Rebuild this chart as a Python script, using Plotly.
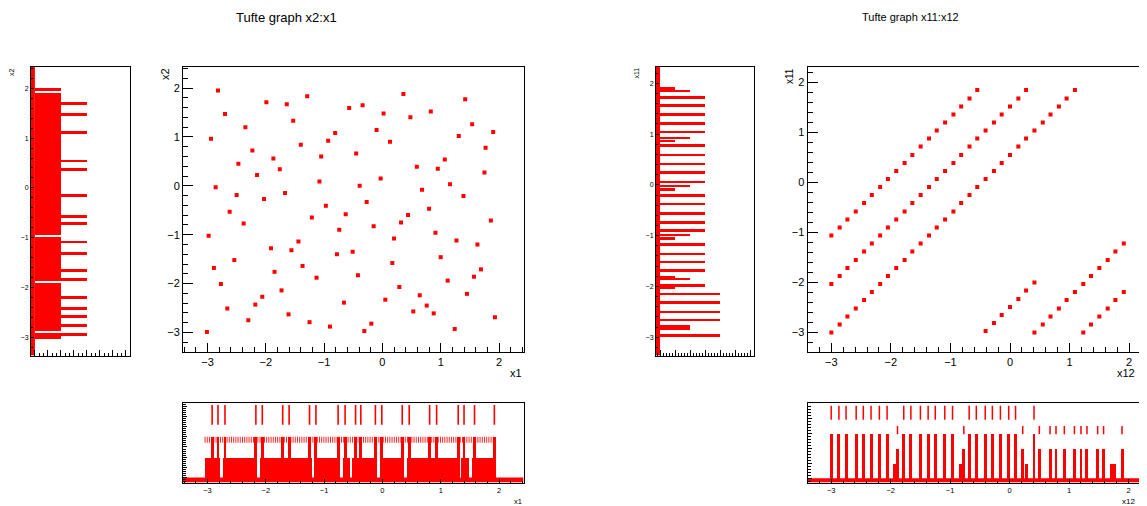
import plotly.graph_objects as go

# ---------------- data: panel A (x2 vs x1) ----------------
x1 = [-3.01, -2.98, -2.94, -2.89, -2.86, -2.82, -2.77, -2.70, -2.66, -2.62,
      -2.54, -2.50, -2.47, -2.38, -2.35, -2.30, -2.23, -2.18, -2.15, -2.06,
      -2.03, -1.99, -1.91, -1.87, -1.85, -1.76, -1.73, -1.67, -1.64, -1.61,
      -1.56, -1.53, -1.44, -1.40, -1.37, -1.29, -1.25, -1.21, -1.13, -1.08,
      -1.05, -0.97, -0.93, -0.90, -0.81, -0.78, -0.74, -0.66, -0.63, -0.57,
      -0.51, -0.45, -0.42, -0.39, -0.34, -0.31, -0.27, -0.19, -0.15, -0.10,
      -0.03, 0.02, 0.05, 0.13, 0.17, 0.20, 0.29, 0.32, 0.36, 0.44,
      0.48, 0.53, 0.59, 0.64, 0.68, 0.76, 0.80, 0.83, 0.88, 0.91,
      0.95, 1.00, 1.07, 1.12, 1.16, 1.24, 1.27, 1.31, 1.39, 1.42,
      1.45, 1.54, 1.57, 1.63, 1.69, 1.75, 1.77, 1.86, 1.90, 1.93]
x2 = [-2.99, -1.02, 0.96, -1.68, -0.03, 1.95, -2.01, 1.47, -2.51, -0.53,
      -1.52, -0.19, 0.45, -0.77, 1.20, -2.75, 0.72, -2.43, 0.22, -2.27,
      -0.27, 1.71, -1.28, 0.56, -1.76, 0.34, -2.14, -0.15, 1.67, -2.63,
      -1.32, 1.33, -1.14, 0.84, -1.64, 1.83, -2.79, -0.65, -1.88, 0.09,
      0.60, -0.41, 0.92, -2.88, 1.08, -1.40, -0.90, -2.39, -0.58, 1.59,
      -1.35, 0.66, -1.83, 0.00, 1.65, -2.97, -0.33, -2.82, -0.83, 1.14,
      0.15, 1.48, -2.33, 0.90, -1.58, -1.08, -2.07, -0.75, 1.88, -0.60,
      1.40, -2.57, 0.39, -2.24, -0.08, -2.45, -0.47, 1.52, -2.61, -0.96,
      0.35, -1.46, 0.54, -1.94, 0.03, -2.93, -1.12, 1.02, -0.21, 1.77,
      -2.21, 1.26, -1.86, -1.20, -1.71, 0.27, 0.78, -0.71, 1.10, -2.69]

# marginal of x1 (bottom): single-count band with gaps, double-count bins, rug
x1_band = [-3.05, 1.93]
x1_band_gaps = [-2.76, -2.13, -1.19, -0.70, -0.54, -0.07, 0.40, 1.33, 1.51]
x1_double = [-2.92, -2.82, -2.70, -2.17, -2.06, -1.71, -1.60, -1.25, -1.14,
             -0.76, -0.64, -0.46, -0.37, -0.12, -0.01, 0.34, 0.46, 0.81,
             0.93, 1.30, 1.40, 1.58, 1.92]

# marginal of x2 (left): single-count band with gaps, double-count bins
x2_band = [-3.04, 1.90]
x2_band_gaps = [-0.965, -1.88, -2.89]
x2_single_extra = [1.98]
x2_double = [1.70, 1.47, 1.12, 0.54, 0.37, -0.16, -0.57, -0.72, -1.09, -1.32,
             -1.66, -1.84, -2.20, -2.42, -2.59, -2.77, -2.95]

# ---------------- data: panel B (x11 vs x12) ----------------
l1_x12 = [-3.00, -2.86, -2.73, -2.59, -2.45, -2.32, -2.18, -2.05, -1.91, -1.77,
          -1.64, -1.50, -1.36, -1.23, -1.09, -0.95, -0.82, -0.68, -0.55]
l1_x11 = [-1.06, -0.90, -0.74, -0.58, -0.41, -0.25, -0.09, 0.07, 0.23, 0.39,
          0.55, 0.72, 0.88, 1.04, 1.20, 1.36, 1.52, 1.68, 1.85]
l2_x12 = [-3.00, -2.86, -2.73, -2.59, -2.45, -2.32, -2.18, -2.05, -1.91, -1.77,
          -1.64, -1.50, -1.36, -1.23, -1.09, -0.95, -0.82, -0.68, -0.55, -0.41,
          -0.27, -0.14, 0.00, 0.14, 0.27]
l2_x11 = [-2.03, -1.87, -1.71, -1.55, -1.38, -1.22, -1.06, -0.90, -0.74, -0.58,
          -0.41, -0.25, -0.09, 0.07, 0.23, 0.39, 0.55, 0.72, 0.88, 1.04,
          1.20, 1.36, 1.52, 1.68, 1.85]
l3_x12 = [-3.00, -2.86, -2.73, -2.59, -2.45, -2.32, -2.18, -2.05, -1.91, -1.77,
          -1.64, -1.50, -1.36, -1.23, -1.09, -0.95, -0.82, -0.68, -0.55, -0.41,
          -0.27, -0.14, 0.00, 0.14, 0.27, 0.41, 0.55, 0.68, 0.82, 0.95, 1.09]
l3_x11 = [-3.00, -2.84, -2.68, -2.52, -2.35, -2.19, -2.03, -1.87, -1.71, -1.55,
          -1.38, -1.22, -1.06, -0.90, -0.74, -0.58, -0.41, -0.25, -0.09, 0.07,
          0.23, 0.39, 0.55, 0.72, 0.88, 1.04, 1.20, 1.36, 1.52, 1.68, 1.85]
l4_x12 = [-0.41, -0.27, -0.14, 0.00, 0.14, 0.27, 0.41]
l4_x11 = [-2.97, -2.81, -2.65, -2.49, -2.33, -2.16, -2.00]
l5_x12 = [0.41, 0.55, 0.68, 0.82, 0.95, 1.09, 1.23, 1.36, 1.50, 1.64, 1.77, 1.91]
l5_x11 = [-3.00, -2.84, -2.68, -2.52, -2.35, -2.19, -2.03, -1.87, -1.71, -1.55,
          -1.38, -1.22]
l6_x12 = [1.23, 1.36, 1.50, 1.64, 1.77, 1.91]
l6_x11 = [-3.00, -2.84, -2.68, -2.52, -2.35, -2.19]

# marginal of x12 (bottom): bin centres and counts
x12_bins = [-3.00, -2.87, -2.75, -2.58, -2.46, -2.33, -2.19, -2.06, -1.94, -1.885,
            -1.78, -1.66, -1.50, -1.37, -1.25, -1.09, -0.96, -0.82, -0.77, -0.68,
            -0.56, -0.41, -0.29, -0.155, -0.015, 0.10, 0.22, 0.28, 0.41, 0.50,
            0.68, 0.78, 0.92, 1.09, 1.20, 1.30, 1.48, 1.58, 1.74, 1.89]
x12_counts = [3, 3, 3, 3, 3, 3, 3, 3, 1, 2,
              3, 3, 3, 3, 3, 3, 3, 1, 2, 3,
              3, 3, 3, 3, 3, 3, 2, 1, 3, 2,
              2, 2, 2, 2, 2, 2, 2, 2, 1, 2]
x12_widths = [0.05] * 38 + [0.10, 0.05]

# marginal of x11 (left): bin centres and counts
x11_bins = [1.89, 1.845, 1.72, 1.56, 1.39, 1.21, 1.04, 0.92, 0.86, 0.77,
            0.59, 0.41, 0.24, 0.06, -0.02, -0.09, -0.21, -0.38, -0.56, -0.74,
            -0.90, -0.99, -1.06, -1.17, -1.36, -1.52, -1.69, -1.82, -1.85, -1.98,
            -2.02, -2.15, -2.32, -2.50, -2.66, -2.81, -2.97]
x11_counts = [1, 2, 3, 3, 3, 3, 3, 2, 1, 3,
              3, 3, 3, 3, 2, 1, 3, 3, 3, 3,
              3, 2, 1, 3, 3, 3, 3, 1, 2, 3,
              1, 4, 4, 4, 4, 2, 4]
x11_widths = [0.09, 0.045] + [0.05] * 33 + [0.09, 0.05]

# ---------------- layout helpers ----------------
# the page body has an 8px margin: page pixel p -> figure pixel p - OFF
OFF = 8
W, H = 1147 - OFF, 506 - OFF
RED = "#ff0000"
FONT = "Liberation Sans, Arial, Helvetica, sans-serif"


def dx(a, b):
    return [(a - OFF) / W, min((b - OFF) / W, 1.0)]


def dy(top, bot):
    return [1 - (bot - OFF) / H, 1 - (top - OFF) / H]


def axis(domain, rng, anchor, dtick, mdtick, tlen, mlen, labels, fsize):
    return dict(domain=domain, range=rng, anchor=anchor, showgrid=False,
                zeroline=False, showline=True, mirror=True, linecolor="black",
                linewidth=1, ticks="inside", ticklen=tlen, tickwidth=1,
                tickcolor="black", dtick=dtick, tick0=0, showticklabels=labels,
                tickfont=dict(family=FONT, size=fsize, color="black"),
                minor=dict(ticks="inside", dtick=mdtick, ticklen=mlen,
                           tickcolor="black", showgrid=False),
                fixedrange=True)


def bands(lo, hi, gaps, gw):
    edges = [lo]
    for g in sorted(gaps):
        edges += [g - gw / 2, g + gw / 2]
    edges.append(hi)
    c = [(edges[i] + edges[i + 1]) / 2 for i in range(0, len(edges), 2)]
    w = [edges[i + 1] - edges[i] for i in range(0, len(edges), 2)]
    return c, w


# axis ranges
rA_x, rA_y = [-3.42, 2.42], [-3.40, 2.43]
rAL_x, rAL_y = [-0.15, 3.64], [-3.37, 2.43]
rAB_y = [-0.25, 3.69]
rB_x, rB_y = [-3.40, 2.30], [-3.39, 2.31]
rBL_x, rBL_y = [-0.27, 6.23], [-3.36, 2.32]
rBB_x, rBB_y = [-3.39, 2.31], [-0.29, 5.04]

fig = go.Figure()
bar_style = dict(color=RED, line=dict(width=0))

# ---- panel A scatter
fig.add_trace(go.Scatter(x=x1, y=x2, mode="markers", xaxis="x", yaxis="y",
                         marker=dict(symbol="square", size=4, color=RED,
                                     line=dict(width=0)), showlegend=False))

# ---- panel A left marginal (x2)
c, w = bands(x2_band[0], x2_band[1], x2_band_gaps, 0.045)
fig.add_trace(go.Bar(orientation="h", y=c, x=[1] * len(c), width=w,
                     xaxis="x2", yaxis="y2", marker=bar_style, showlegend=False))
fig.add_trace(go.Bar(orientation="h", y=x2_single_extra, x=[1] * len(x2_single_extra),
                     width=[0.055] * len(x2_single_extra),
                     xaxis="x2", yaxis="y2", marker=bar_style, showlegend=False))
fig.add_trace(go.Bar(orientation="h", y=x2_double, x=[2] * len(x2_double),
                     width=[0.055] * len(x2_double),
                     xaxis="x2", yaxis="y2", marker=bar_style, showlegend=False))

# ---- panel A bottom marginal (x1)
c, w = bands(x1_band[0], x1_band[1], x1_band_gaps, 0.045)
fig.add_trace(go.Bar(x=c, y=[1] * len(c), width=w, xaxis="x3", yaxis="y3",
                     marker=bar_style, showlegend=False))
fig.add_trace(go.Bar(x=x1_double, y=[2] * len(x1_double),
                     width=[0.05] * len(x1_double), xaxis="x3", yaxis="y3",
                     marker=bar_style, showlegend=False))
fig.add_trace(go.Scatter(x=x1_band, y=[1 + 0.85] * 2, mode="lines",
                         xaxis="x3", yaxis="y3",
                         line=dict(color="rgba(255,0,0,0.85)", width=6,
                                   dash="1px,1.2px"), showlegend=False))
fig.add_trace(go.Scatter(x=x1_double, y=[2 + 1.08] * len(x1_double), mode="markers",
                         xaxis="x3", yaxis="y3",
                         marker=dict(symbol="line-ns", size=14,
                                     line=dict(color=RED, width=1.6)),
                         showlegend=False))

# ---- panel B scatter
for lx, ly in [(l1_x12, l1_x11), (l2_x12, l2_x11), (l3_x12, l3_x11),
               (l4_x12, l4_x11), (l5_x12, l5_x11), (l6_x12, l6_x11)]:
    fig.add_trace(go.Scatter(x=lx, y=ly, mode="markers", xaxis="x4", yaxis="y4",
                             marker=dict(symbol="square", size=4, color=RED,
                                         line=dict(width=0)), showlegend=False))

# ---- panel B left marginal (x11)
fig.add_trace(go.Bar(orientation="h", y=x11_bins, x=x11_counts, width=x11_widths,
                     xaxis="x5", yaxis="y5", marker=bar_style, showlegend=False))

# ---- panel B bottom marginal (x12)
fig.add_trace(go.Bar(x=x12_bins, y=x12_counts, width=x12_widths,
                     xaxis="x6", yaxis="y6", marker=bar_style, showlegend=False))
rug3 = [b for b, n in zip(x12_bins, x12_counts) if n == 3]
rug2 = [b for b, n in zip(x12_bins, x12_counts) if n == 2]
fig.add_trace(go.Scatter(x=rug3, y=[3 + 1.35] * len(rug3), mode="markers",
                         xaxis="x6", yaxis="y6",
                         marker=dict(symbol="line-ns", size=10,
                                     line=dict(color=RED, width=1.5)),
                         showlegend=False))
fig.add_trace(go.Scatter(x=rug2, y=[2 + 1.2] * len(rug2), mode="markers",
                         xaxis="x6", yaxis="y6",
                         marker=dict(symbol="line-ns", size=6,
                                     line=dict(color=RED, width=1.5)),
                         showlegend=False))

# ---- zero-level (empty bins) bands
shapes = [
    dict(type="rect", xref="x2", yref="y2", x0=rAL_x[0], x1=0, y0=rAL_y[0], y1=rAL_y[1],
         fillcolor=RED, line=dict(width=0), layer="below"),
    dict(type="rect", xref="x3", yref="y3", x0=rA_x[0], x1=rA_x[1], y0=rAB_y[0], y1=0,
         fillcolor=RED, line=dict(width=0), layer="below"),
    dict(type="rect", xref="x5", yref="y5", x0=rBL_x[0], x1=0, y0=rBL_y[0], y1=rBL_y[1],
         fillcolor=RED, line=dict(width=0), layer="below"),
    dict(type="rect", xref="x6", yref="y6", x0=rBB_x[0], x1=rBB_x[1], y0=rBB_y[0], y1=0,
         fillcolor=RED, line=dict(width=0), layer="below"),
]


def ann(text, x, y, size, xa="center", ya="middle", angle=0):
    return dict(text=text, x=(x - OFF) / W, y=1 - (y - OFF) / H, xref="paper",
                yref="paper", showarrow=False, xanchor=xa, yanchor=ya,
                textangle=angle, font=dict(family=FONT, size=size, color="black"))


annotations = [
    ann("Tufte graph x2:x1", 286, 17, 13),
    ann("Tufte graph x11:x12", 910, 17, 11),
    ann("x1", 524, 373, 11, xa="right"),
    ann("x2", 165, 66, 11, ya="top", angle=-90),
    ann("x12", 1137, 373, 11, xa="right"),
    ann("x11", 789, 66, 10, ya="top", angle=-90),
    ann("x2", 11, 66, 7, ya="top", angle=-90),
    ann("x11", 636, 66, 7, ya="top", angle=-90),
    ann("x1", 524, 501, 7.5, xa="right"),
    ann("x12", 1137, 501, 8, xa="right"),
]

fig.update_layout(
    width=W, height=H, margin=dict(l=0, r=0, t=0, b=0),
    paper_bgcolor="white", plot_bgcolor="white", barmode="overlay", bargap=0,
    showlegend=False, shapes=shapes, annotations=annotations,
    xaxis=axis(dx(183, 523.5), rA_x, "y", 1, 0.2, 9, 5, True, 11),
    yaxis=axis(dy(67, 352), rA_y, "x", 1, 0.2, 10, 5, True, 11),
    xaxis2=axis(dx(31, 129.5), rAL_x, "y2", 0.5, 1 / 6, 6, 3, False, 7),
    yaxis2=axis(dy(67, 355.5), rAL_y, "x2", 1, 0.2, 3, 2, True, 7),
    xaxis3=axis(dx(183, 523.5), rA_x, "y3", 1, 0.2, 4, 2, True, 7.5),
    yaxis3=axis(dy(402.5, 482.5), rAB_y, "x3", 0.5, 0.1, 4, 2.5, False, 7),
    xaxis4=axis(dx(807.5, 1147), rB_x, "y4", 1, 0.2, 9, 5, True, 11),
    yaxis4=axis(dy(67, 352), rB_y, "x4", 1, 0.2, 10, 5, True, 11),
    xaxis5=axis(dx(656, 753.5), rBL_x, "y5", 1, 0.2, 6, 3, False, 7),
    yaxis5=axis(dy(67, 355.5), rBL_y, "x5", 1, 0.2, 3, 2, True, 7),
    xaxis6=axis(dx(808, 1147), rBB_x, "y6", 1, 0.2, 4, 2, True, 7.5),
    yaxis6=axis(dy(402.5, 482.5), rBB_y, "x6", 1, 0.2, 4, 2.5, False, 7),
)

fig.write_html("out.html")
